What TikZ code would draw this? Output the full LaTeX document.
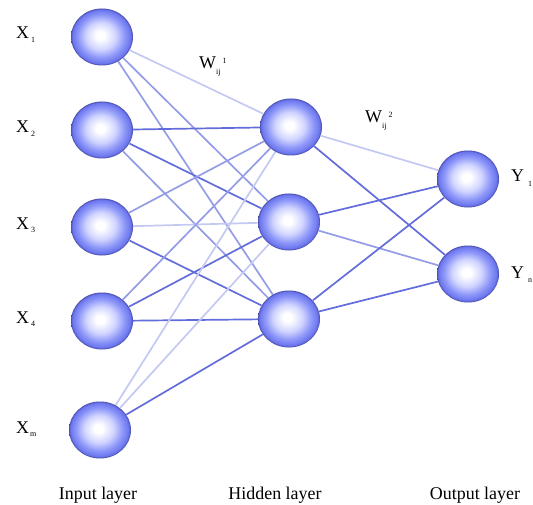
\documentclass[tikz,border=0pt]{standalone}
\usepackage{fontspec}
\setmainfont{Liberation Serif}
\usetikzlibrary{shapes.geometric}
\definecolor{sA}{RGB}{208,212,255}
\definecolor{sB}{RGB}{140,150,248}
\definecolor{sC}{RGB}{108,118,238}
\definecolor{sD}{RGB}{45,45,120}
\definecolor{edark}{RGB}{98,108,218}
\definecolor{emid}{RGB}{148,156,230}
\definecolor{elight}{RGB}{196,201,243}
\pgfdeclareradialshading{sphere}{\pgfpoint{-1.5bp}{1.5bp}}{%
  color(0bp)=(white); color(3.5bp)=(white); color(12bp)=(sA);
  color(19bp)=(sB); color(23.5bp)=(sC); color(26bp)=(sD); color(32bp)=(sD)}
\newcommand{\lblfont}{\fontsize{18}{21}\selectfont}
\newcommand{\subfont}{\fontsize{8}{9}\selectfont}
\tikzset{
  neuron/.style={ellipse, inner sep=0pt, minimum width=62bp, minimum height=57bp, shading=sphere},
  edgeline/.style={line width=1.7bp},
  dk/.style={edgeline, draw=edark},
  md/.style={edgeline, draw=emid},
  lt/.style={edgeline, draw=elight},
  lbl/.style={inner sep=0pt, font=\lblfont},
}
\pgfdeclarelayer{bg}
\pgfsetlayers{bg,main}
\begin{document}
\begin{tikzpicture}[x=1bp,y=-1bp]
\useasboundingbox (0,0) rectangle (533,505);
% nodes
\node[neuron] (I1) at (102,37) {};
\node[neuron] (I2) at (102,130) {};
\node[neuron] (I3) at (102,227) {};
\node[neuron] (I4) at (102,321) {};
\node[neuron] (I5) at (100,430) {};
\node[neuron] (H1) at (291,127) {};
\node[neuron] (H2) at (289,222) {};
\node[neuron] (H3) at (289,319) {};
\node[neuron] (O1) at (468,179) {};
\node[neuron] (O2) at (468,274) {};
% connections (behind)
\begin{pgfonlayer}{bg}
\draw[lt] (I1) -- (H1);
\draw[md] (I1) -- (H2);
\draw[md] (I1) -- (H3);
\draw[dk] (I2) -- (H1);
\draw[dk] (I2) -- (H2);
\draw[md] (I2) -- (H3);
\draw[md] (I3) -- (H1);
\draw[lt] (I3) -- (H2);
\draw[dk] (I3) -- (H3);
\draw[md] (I4) -- (H1);
\draw[dk] (I4) -- (H2);
\draw[dk] (I4) -- (H3);
\draw[lt] (I5) -- (H1);
\draw[lt] (I5) -- (H2);
\draw[dk] (I5) -- (H3);
\draw[lt] (H1) -- (O1);
\draw[dk] (H1) -- (O2);
\draw[dk] (H2) -- (O1);
\draw[md] (H2) -- (O2);
\draw[dk] (H3) -- (O1);
\draw[dk] (H3) -- (O2);
\end{pgfonlayer}
% input labels
\node[lbl, anchor=base west] (LX1) at (16,39) {X\hspace{2pt}\raisebox{-4pt}{\subfont 1}};
\node[lbl, anchor=base west] (LX2) at (16,133) {X\hspace{2pt}\raisebox{-4pt}{\subfont 2}};
\node[lbl, anchor=base west] (LX3) at (16,229) {X\hspace{2pt}\raisebox{-4pt}{\subfont 3}};
\node[lbl, anchor=base west] (LX4) at (16,323) {X\hspace{2pt}\raisebox{-4pt}{\subfont 4}};
\node[lbl, anchor=base west] (LX5) at (16,433) {X\hspace{1pt}\raisebox{-4pt}{\subfont m}};
% output labels
\node[lbl, anchor=base west] (LY1) at (511,182) {Y\hspace{4pt}\raisebox{-5pt}{\subfont 1}};
\node[lbl, anchor=base west] (LY2) at (511,278) {Y\hspace{4pt}\raisebox{-5pt}{\subfont n}};
% weights
\node[lbl, anchor=base west] (W1) at (199,69) {W\raisebox{-6pt}{\fontsize{8}{9}\selectfont ij}\hspace{2pt}\raisebox{6pt}{\subfont 1}};
\node[lbl, anchor=base west] (W2) at (365,123) {W\raisebox{-6pt}{\fontsize{8}{9}\selectfont ij}\hspace{2pt}\raisebox{6pt}{\subfont 2}};
% layer labels
\node[lbl, anchor=base] (L1) at (98,499) {Input layer};
\node[lbl, anchor=base] (L2) at (275,499) {Hidden layer};
\node[lbl, anchor=base] (L3) at (475,499) {Output layer};
\end{tikzpicture}
\end{document}
